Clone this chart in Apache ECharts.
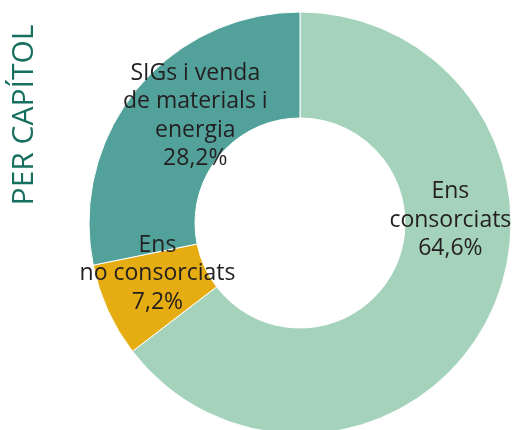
<!DOCTYPE html>
<html>
<head>
<meta charset="utf-8">
<style>
  html, body { margin: 0; padding: 0; background: #fff; }
  #chart { width: 519px; height: 430px; }
</style>
<script src="https://cdn.jsdelivr.net/npm/echarts@6/dist/echarts.min.js"></script>
</head>
<body>
<div id="chart"></div>
<script>
// dades del gràfic
const categories = ['Ens\nconsorciats', 'Ens\nno consorciats', 'SIGs i venda\nde materials i\nenergia']
const values = [64.6, 7.2, 28.2]
const colors = ['#a5d2ba', '#e6ad12', '#52a29b']
const title = 'PER CAPÍTOL'

// ajust manual de les etiquetes (com a l'original)
const labelShift = [
  { dx: 6, dy: -74 },
  { dx: 4, dy: -16 },
  { dx: 20, dy: -5 }
]

const chart = echarts.init(document.getElementById('chart'))
chart.setOption({
  animation: false,
  color: colors,
  graphic: [
    {
      type: 'text',
      x: 24,
      y: 115,
      rotation: Math.PI / 2,
      style: {
        text: title,
        fill: '#17705f',
        font: '30px "Open Sans"',
        align: 'center',
        verticalAlign: 'middle'
      }
    }
  ],
  series: [
    {
      type: 'pie',
      center: [300, 223],
      radius: [105, 211],
      startAngle: 90,
      clockwise: true,
      itemStyle: {
        borderColor: '#fff',
        borderWidth: 1
      },
      label: {
        show: true,
        position: 'inside',
        color: '#231f20',
        fontFamily: 'Open Sans',
        fontSize: 23,
        lineHeight: 28.5,
        align: 'center',
        formatter: function (p) {
          return p.name + '\n' + p.value.toFixed(1).replace('.', ',') + '%'
        }
      },
      labelLayout: function (params) {
        return labelShift[params.dataIndex]
      },
      data: categories.map(function (name, i) {
        return { name: name, value: values[i] }
      })
    }
  ]
})
</script>
</body>
</html>
